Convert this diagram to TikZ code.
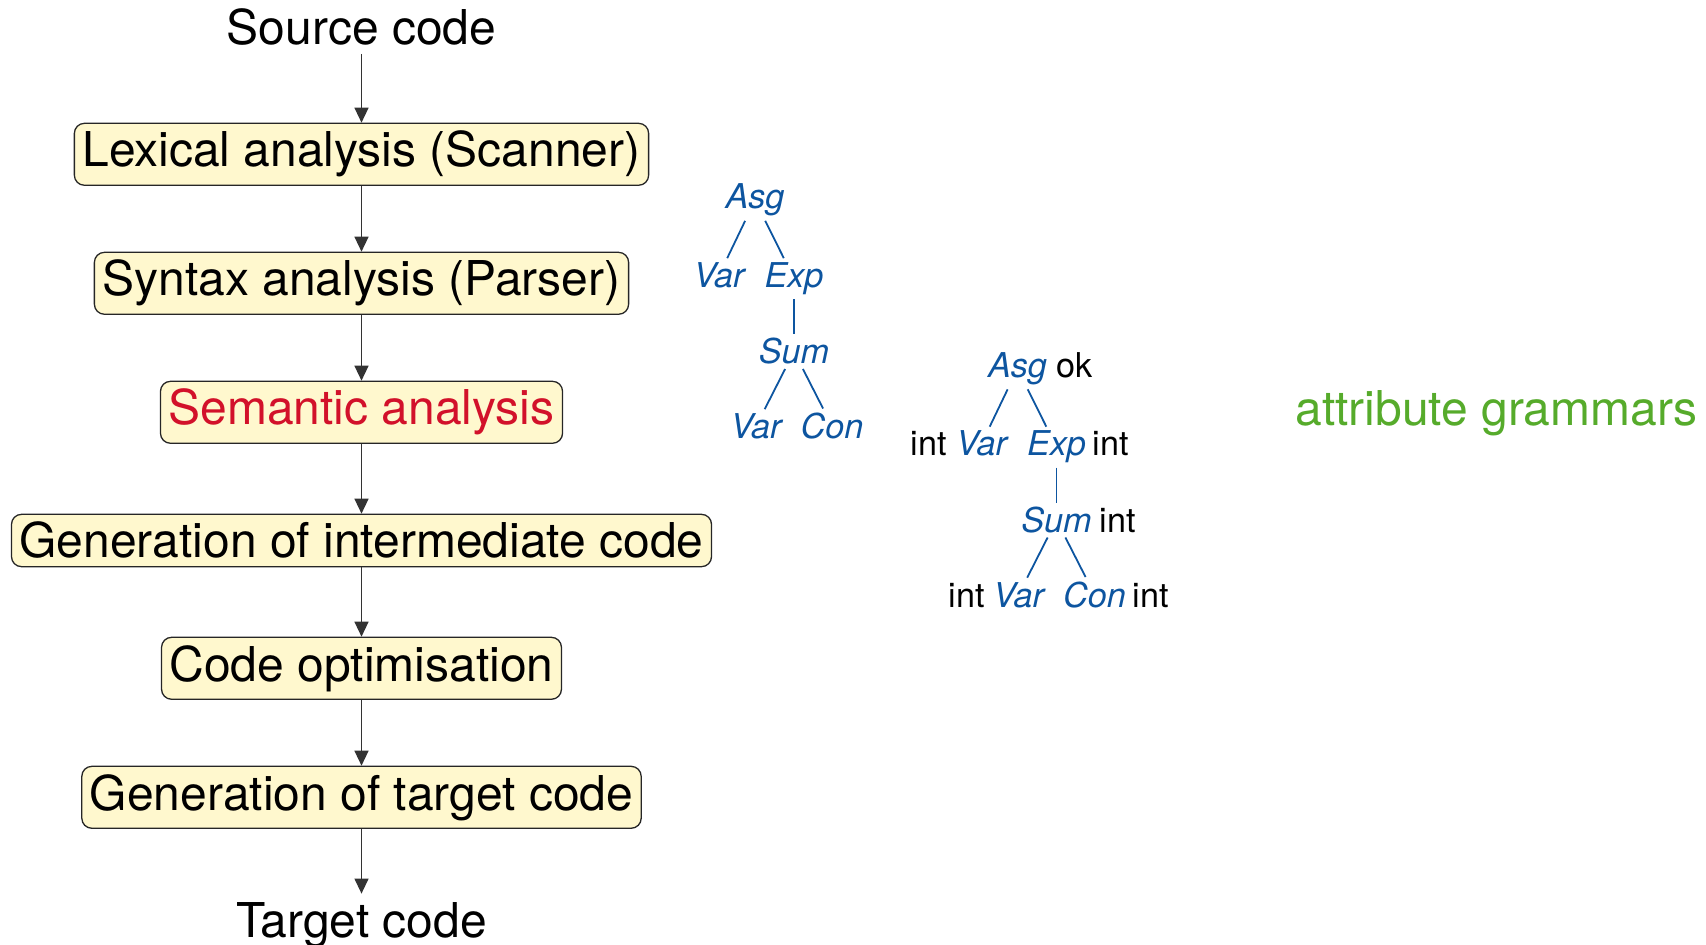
\documentclass[tikz,border=0pt]{standalone}
\usepackage{fontspec}
\setmainfont{TeX Gyre Heros}
\usetikzlibrary{arrows.meta}
\definecolor{boxfill}{HTML}{FFF8CE}
\definecolor{semred}{HTML}{D2112A}
\definecolor{treeblue}{HTML}{0D55A0}
\definecolor{attrgreen}{HTML}{56AB2B}

\begin{document}
\begin{tikzpicture}[x=0.5pt,y=-0.5pt,
  big/.style={font=\fontsize{24pt}{28pt}\selectfont},
  phase/.style={big, draw=black!85, line width=0.65pt, fill=boxfill,
    rounded corners=5pt, inner xsep=4pt, inner ysep=3.9pt, anchor=base},
  endpoint/.style={big, inner sep=4pt, anchor=base},
  flow/.style={-{Triangle[length=7.5pt,width=7pt]}, line width=0.65pt, draw=black!80},
  tnode/.style={font=\fontsize{17.1pt}{20pt}\selectfont\itshape, text=treeblue,
    inner sep=2pt, anchor=base},
  tedge/.style={draw=treeblue, line width=0.9pt},
  attr/.style={font=\fontsize{17.1pt}{20pt}\selectfont, inner sep=0pt, anchor=base west}
]
\useasboundingbox (0,0) rectangle (1706,945);

% compiler phases
\node[endpoint] (src) at (361.5,44.5) {Source code};
\node[phase] (lex) at (361.5,167) {Lexical analysis (Scanner)};
\node[phase] (syn) at (361.5,296) {Syntax analysis (Parser)};
\node[phase, text=semred] (sem) at (361.5,425) {Semantic analysis};
\node[phase] (inter) at (361.5,558) {Generation of intermediate code};
\node[phase] (opt) at (361.5,681) {Code optimisation};
\node[phase] (gen) at (361.5,810) {Generation of target code};
\node[endpoint] (tgt) at (361.5,937) {Target code};

\draw[flow] (src) -- (lex);
\draw[flow] (lex) -- (syn);
\draw[flow] (syn) -- (sem);
\draw[flow] (sem) -- (inter);
\draw[flow] (inter) -- (opt);
\draw[flow] (opt) -- (gen);
\draw[flow] (gen) -- (tgt);

% abstract syntax tree
\node[tnode] (asgA) at (755,209) {Asg};
\node[tnode] (varA) at (719,287.5) {Var};
\node[tnode] (expA) at (794,287.5) {Exp};
\node[tnode] (sumA) at (794,364) {Sum};
\node[tnode] (varA2) at (756,438.5) {Var};
\node[tnode] (conA) at (832,438.5) {Con};
\draw[tedge] (asgA) -- (varA);
\draw[tedge] (asgA) -- (expA);
\draw[tedge] (expA) -- (sumA);
\draw[tedge] (sumA) -- (varA2);
\draw[tedge] (sumA) -- (conA);

% attributed tree
\node[tnode] (asgB) at (1017.5,377.5) {Asg};
\node[tnode] (varB) at (981.5,456) {Var};
\node[tnode] (expB) at (1056.5,456) {Exp};
\node[tnode] (sumB) at (1056.5,532.5) {Sum};
\node[tnode] (varB2) at (1018.5,607) {Var};
\node[tnode] (conB) at (1094.5,607) {Con};
\draw[tedge] (asgB) -- (varB);
\draw[tedge] (asgB) -- (expB);
\draw[tedge] (expB) -- (sumB);
\draw[tedge] (sumB) -- (varB2);
\draw[tedge] (sumB) -- (conB);

\node[attr] (aAsg) at (1056,377.5) {ok};
\node[attr] (aVar) at (910,456) {int};
\node[attr] (aExp) at (1092.5,456) {int};
\node[attr] (aSum) at (1099,532.5) {int};
\node[attr] (aVar2) at (948.4,607) {int};
\node[attr] (aCon) at (1132.5,607) {int};

\node[big, text=attrgreen, anchor=base west, inner sep=0pt] (ag) at (1295,426) {attribute grammars};
\end{tikzpicture}
\end{document}
